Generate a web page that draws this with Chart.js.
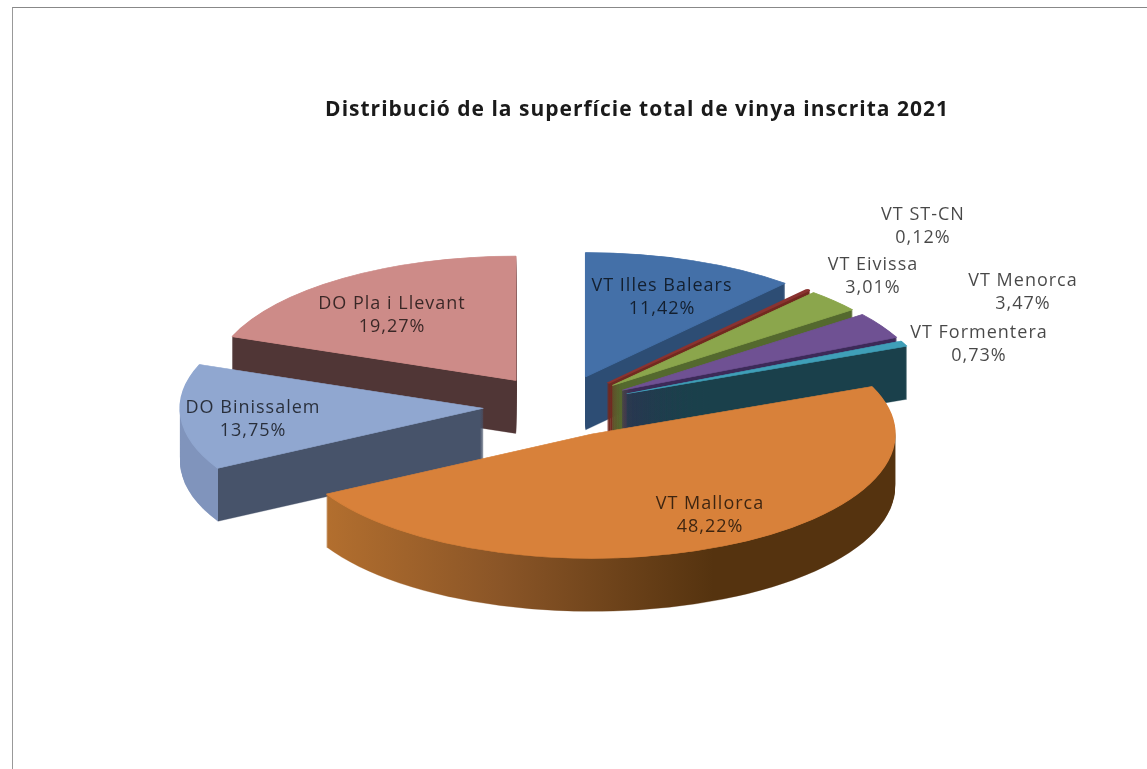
<!DOCTYPE html>
<html>
<head>
<meta charset="utf-8">
<title>Distribució de la superfície total de vinya inscrita 2021</title>
<script src="https://cdn.jsdelivr.net/npm/chart.js@4"></script>
<style>
  html, body { margin: 0; padding: 0; background: #fff; overflow: hidden; }
  #frame { position: absolute; left: 12px; top: 7px; right: 0; bottom: 0; border-left: 1px solid #999; border-top: 1px solid #888; }
  canvas { position: absolute; left: 0; top: 0; }
</style>
</head>
<body>
<div id="frame"></div>
<canvas id="pie" width="1147" height="769"></canvas>
<script>
const chartTitle = 'Distribució de la superfície total de vinya inscrita 2021';
const categories = ['VT Illes Balears', 'VT ST-CN', 'VT Eivissa', 'VT Menorca', 'VT Formentera', 'VT Mallorca', 'DO Binissalem', 'DO Pla i Llevant'];
const shares = [11.42, 0.12, 3.01, 3.47, 0.73, 48.22, 13.75, 19.27];

// colours of the top faces
const topColors = ['#4470a8', '#8a3330', '#8ba64c', '#6f5193', '#3f9fb8', '#d8813a', '#90a7d0', '#cd8b88'];
// side walls: [fraction across the pie, colour]
const wallColors = [
  [[0, '#2d4d74'], [1, '#2d4d74']],
  [[0, '#72291f'], [1, '#72291f']],
  [[0, '#54692e'], [1, '#54692e']],
  [[0, '#3c2a58'], [1, '#3c2a58']],
  [[0, '#1a404b'], [1, '#1a404b']],
  [[0, '#bb7430'], [0.35, '#8a5527'], [0.7, '#55330f'], [1, '#55330f']],
  [[0, '#8094bc'], [0.0625, '#8094bc'], [0.0625, '#47536a'], [1, '#47536a']],
  [[0, '#503636'], [1, '#503636']]
];
// far slices first so the near ones cover them
const drawOrder = [7, 0, 1, 2, 3, 4, 6, 5];
// centre of each two line label, in page pixels
const labelCentres = [[662, 296], [923, 225], [873, 275], [1023, 291], [979, 343], [710, 514], [253, 418], [392, 314]];
// slice pull out, slightly less for the thin ones as in the picture
const explode = [76, 74, 73, 74, 74, 76, 76, 76];
// outline of the top face, walls get 1 less so no dark fringe shows
const outline = [1.5, 3.5, 1.5, 1.5, 1.5, 1.5, 1.5, 1.5];

const tilt = 0.41;      // how flat the pie is
const depth = 53;       // wall height

function wallFill(ctx, arc, stops) {
  const r = arc.outerRadius;
  const grad = ctx.createLinearGradient(arc.x - r, 0, arc.x + r, 0);
  stops.forEach(s => grad.addColorStop(s[0], s[1]));
  return grad;
}

function drawSlice(ctx, arc, fill, width) {
  const saved = arc.options;
  arc.options = Object.assign({}, saved, { backgroundColor: fill, borderColor: fill, borderWidth: width });
  arc.draw(ctx);
  arc.options = saved;
}

const tiltedPie = {
  id: 'tiltedPie',
  beforeDatasetsDraw(chart) {
    const ctx = chart.ctx;
    const arcs = chart.getDatasetMeta(0).data;
    drawOrder.forEach(i => {
      const arc = arcs[i];
      const mid = (arc.startAngle + arc.endAngle) / 2;
      ctx.save();
      ctx.translate(arc.x, arc.y);
      ctx.scale(1, tilt);
      ctx.translate(-arc.x, -arc.y);
      ctx.translate(explode[i] * Math.cos(mid), explode[i] * Math.sin(mid));
      const grad = wallFill(ctx, arc, wallColors[i]);
      for (let d = depth; d > 0; d--) {
        ctx.save();
        ctx.translate(0, d / tilt);
        drawSlice(ctx, arc, grad, outline[i] - 1);
        ctx.restore();
      }
      drawSlice(ctx, arc, topColors[i], outline[i]);
      ctx.restore();
    });
    return false;
  },
  afterDraw(chart) {
    const ctx = chart.ctx;
    ctx.save();
    ctx.textAlign = 'center';
    ctx.textBaseline = 'middle';
    ctx.fillStyle = '#1a1a1a';
    ctx.font = 'bold 21px "Open Sans"';
    ctx.letterSpacing = '1px';
    ctx.fillText(chartTitle, 637, 110);
    ctx.fillStyle = 'rgba(0,0,0,0.72)';
    ctx.font = '18px "Open Sans"';
    categories.forEach((name, i) => {
      const c = labelCentres[i];
      ctx.fillText(name, c[0], c[1] - 10);
      ctx.fillText(shares[i].toFixed(2).replace('.', ',') + '%', c[0], c[1] + 13);
    });
    ctx.restore();
  }
};

new Chart(document.getElementById('pie'), {
  type: 'pie',
  data: {
    labels: categories,
    datasets: [{ data: shares, backgroundColor: topColors, borderWidth: 0 }]
  },
  options: {
    responsive: false,
    animation: false,
    layout: { padding: { left: 256, right: 285, top: 103, bottom: 60 } },
    plugins: { legend: { display: false }, tooltip: { enabled: false } }
  },
  plugins: [tiltedPie]
});
</script>
</body>
</html>
